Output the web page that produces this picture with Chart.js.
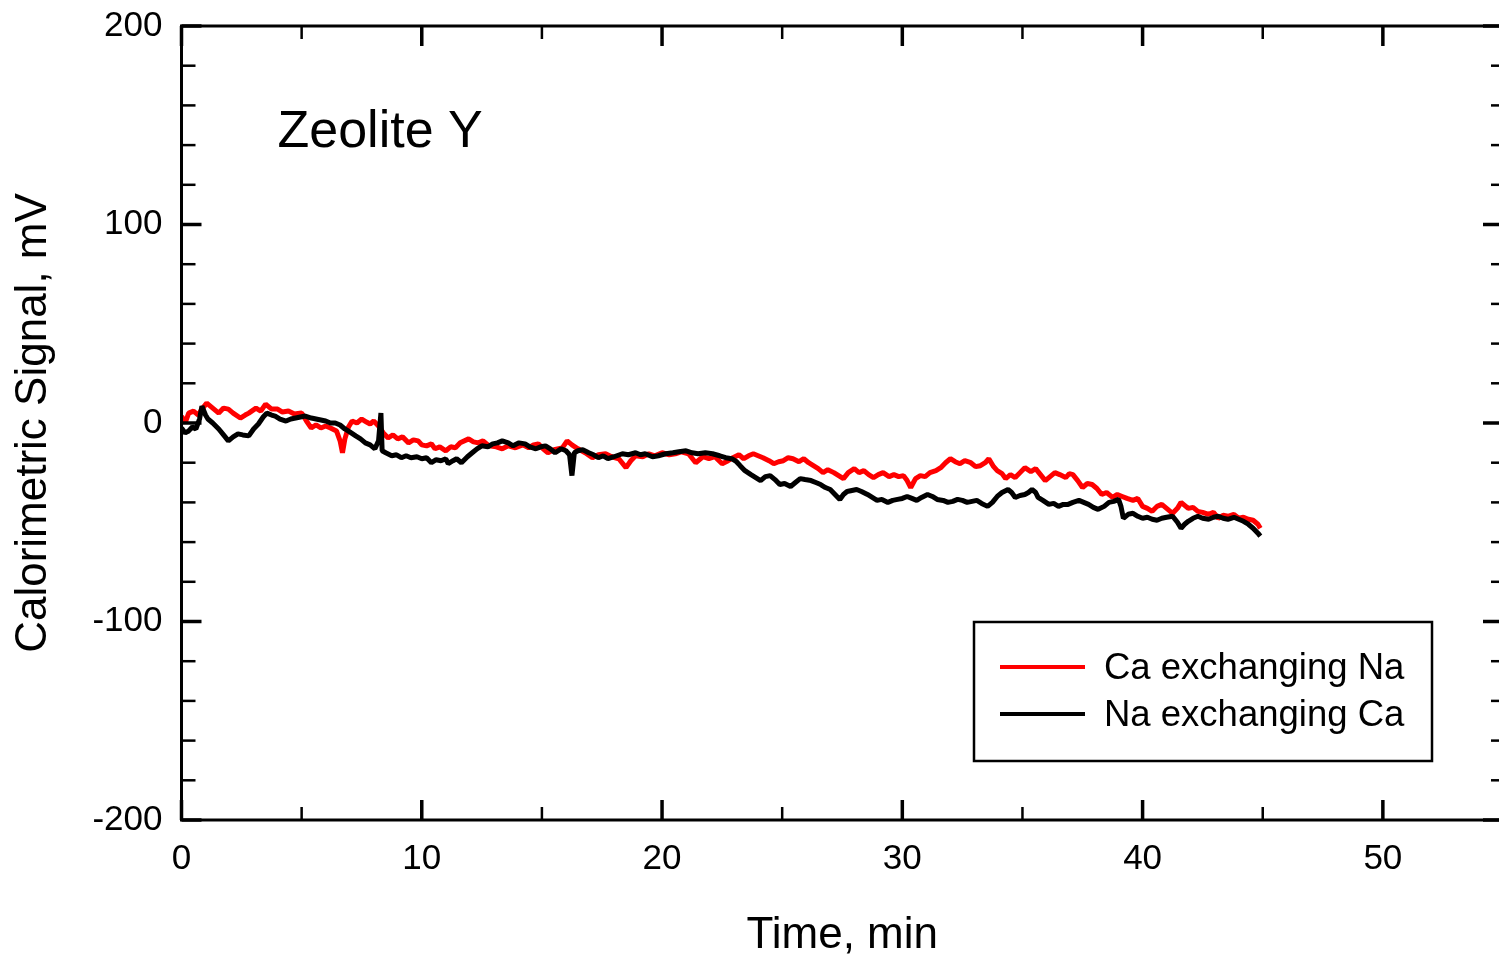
<!DOCTYPE html>
<html>
<head>
<meta charset="utf-8">
<title>Zeolite Y</title>
<script src="https://cdn.jsdelivr.net/npm/chart.js@4.4.1/dist/chart.umd.min.js"></script>
<style>
  html, body { margin: 0; padding: 0; background: #fff; overflow: hidden; }
</style>
</head>
<body>
<canvas id="grafica" width="1520" height="958"></canvas>
<script>
// DATOS (min, mV)
const caTime = [
  0, 0.15, 0.3, 0.5, 0.7, 0.85, 1.05, 1.25, 1.55, 1.75,
  1.95, 2.15, 2.45, 2.65, 2.8, 3.1, 3.3, 3.5, 3.75, 4.0,
  4.2, 4.45, 4.7, 5.0, 5.2, 5.4, 5.6, 5.8, 6.0, 6.2,
  6.45, 6.6, 6.7, 6.8, 6.95, 7.1, 7.3, 7.5, 7.7, 7.85,
  8.0, 8.2, 8.4, 8.6, 8.8, 9.0, 9.2, 9.45, 9.65, 9.85,
  10.0, 10.2, 10.4, 10.55, 10.75, 11.0, 11.2, 11.4, 11.6, 11.95,
  12.15, 12.35, 12.55, 12.8, 13.1, 13.35, 13.6, 13.9, 14.2, 14.45,
  14.65, 14.85, 15.05, 15.25, 15.5, 15.85, 16.05, 16.25, 16.5, 16.8,
  17.1, 17.35, 17.65, 17.9, 18.2, 18.5, 18.7, 18.9, 19.2, 19.45,
  19.7, 20.0, 20.3, 20.55, 20.8, 21.1, 21.4, 21.7, 21.95, 22.2,
  22.5, 22.75, 22.95, 23.2, 23.4, 23.6, 23.8, 24.0, 24.2, 24.45,
  24.65, 24.85, 25.05, 25.25, 25.45, 25.7, 25.9, 26.1, 26.3, 26.5,
  26.7, 26.9, 27.15, 27.35, 27.55, 27.75, 28.0, 28.2, 28.4, 28.6,
  28.8, 29.0, 29.2, 29.45, 29.65, 29.85, 30.05, 30.2, 30.35, 30.55,
  30.75, 30.95, 31.15, 31.4, 31.6, 31.8, 32.0, 32.2, 32.4, 32.6,
  32.85, 33.05, 33.25, 33.45, 33.6, 33.8, 33.95, 34.15, 34.3, 34.5,
  34.7, 34.9, 35.1, 35.35, 35.55, 35.75, 35.95, 36.15, 36.35, 36.55,
  36.8, 36.95, 37.1, 37.3, 37.5, 37.7, 37.9, 38.1, 38.3, 38.5,
  38.75, 38.95, 39.15, 39.35, 39.6, 39.8, 40.0, 40.2, 40.4, 40.6,
  40.8, 41.0, 41.25, 41.45, 41.6, 41.75, 41.9, 42.1, 42.3, 42.5,
  42.75, 42.95, 43.15, 43.35, 43.55, 43.8, 44.0, 44.2, 44.4, 44.6,
  44.8, 44.9
];
const caSignal = [
  3.5, 0, 5, 6, 4, 7, 10, 8, 5, 7.5,
  7, 5, 2.5, 4, 5, 7.5, 6, 9.5, 7, 7,
  5.5, 6, 4.5, 5, 1, -2.5, -1, -2.5, -1.5, -2.5,
  -4, -9, -15, -8, -2, 1, 0, 2, 0.5, -0.5,
  1, -1.5, -5, -7.5, -6, -8, -7, -10, -8.5, -9,
  -11, -11.5, -10.5, -13, -12, -14, -12, -12.5, -10, -8,
  -9.5, -10, -9, -11.5, -12, -13, -11.5, -12.5, -11, -12.5,
  -11, -10.5, -13, -15, -13.5, -12.5, -9, -11, -13, -15,
  -17.5, -16, -15.5, -17, -18, -22.5, -19, -16.5, -17, -15.5,
  -16.5, -15, -16, -15.5, -14.5, -15.5, -20, -17, -18, -17,
  -20.5, -19, -17.5, -16, -18, -16.5, -15.5, -16.5, -17.5, -19,
  -20.5, -19.5, -19, -17.5, -18, -19.5, -18, -20, -21.5, -23,
  -25, -23.5, -25, -26.5, -28, -25, -23, -25, -24, -26,
  -27.5, -26, -25, -27, -26, -27, -26.5, -29, -32.5, -28,
  -26.5, -27, -25, -24, -22.5, -20, -18, -19.5, -20.5, -19,
  -20, -22, -21.5, -20, -18, -22, -24, -25.5, -28, -26,
  -27.5, -25, -22.5, -24.5, -23, -26, -29, -27, -25, -26,
  -27.5, -25.5, -26, -29, -32.5, -30.5, -31, -33, -36, -35,
  -37.5, -36, -37, -38, -39, -38, -42, -43, -44.5, -42,
  -41, -43, -45.5, -43, -40, -41.5, -43, -42.5, -44.5, -45,
  -46, -45, -48, -46.5, -47, -46, -48, -47.5, -48.5, -49,
  -51, -53
];
const naTime = [
  0, 0.15, 0.3, 0.45, 0.6, 0.75, 0.85, 1.0, 1.1, 1.3,
  1.55, 1.75, 1.95, 2.15, 2.35, 2.55, 2.8, 3.0, 3.2, 3.4,
  3.55, 3.75, 3.9, 4.1, 4.35, 4.55, 4.75, 4.95, 5.15, 5.4,
  5.6, 5.8, 6.0, 6.2, 6.4, 6.6, 6.8, 7.0, 7.25, 7.45,
  7.65, 7.85, 8.05, 8.2, 8.3, 8.35, 8.5, 8.75, 8.95, 9.15,
  9.35, 9.55, 9.8, 10.0, 10.2, 10.4, 10.6, 10.8, 11.0, 11.1,
  11.3, 11.45, 11.65, 11.9, 12.1, 12.3, 12.5, 12.75, 12.95, 13.15,
  13.35, 13.6, 13.8, 14.05, 14.3, 14.5, 14.75, 14.95, 15.15, 15.35,
  15.55, 15.8, 16.0, 16.15, 16.25, 16.35, 16.5, 16.7, 16.95, 17.15,
  17.35, 17.55, 17.75, 18.0, 18.35, 18.6, 18.9, 19.1, 19.3, 19.6,
  19.85, 20.15, 20.45, 20.7, 21.0, 21.25, 21.5, 21.8, 22.1, 22.4,
  22.65, 22.9, 23.1, 23.25, 23.45, 23.7, 23.9, 24.1, 24.3, 24.5,
  24.7, 24.9, 25.1, 25.35, 25.55, 25.75, 25.95, 26.2, 26.4, 26.6,
  26.8, 27.0, 27.2, 27.4, 27.55, 27.7, 27.9, 28.1, 28.3, 28.55,
  28.75, 28.95, 29.15, 29.4, 29.6, 29.8, 30.0, 30.2, 30.4, 30.6,
  30.8, 31.05, 31.25, 31.45, 31.7, 31.9, 32.1, 32.3, 32.5, 32.7,
  32.9, 33.1, 33.3, 33.55, 33.75, 33.95, 34.15, 34.4, 34.55, 34.7,
  34.9, 35.1, 35.25, 35.4, 35.55, 35.65, 35.85, 36.1, 36.3, 36.5,
  36.7, 36.9, 37.1, 37.35, 37.55, 37.75, 37.95, 38.15, 38.4, 38.6,
  38.8, 39.0, 39.1, 39.2, 39.4, 39.6, 39.8, 40.0, 40.2, 40.4,
  40.6, 40.8, 41.0, 41.25, 41.45, 41.6, 41.75, 41.9, 42.1, 42.3,
  42.5, 42.75, 42.95, 43.15, 43.35, 43.55, 43.8, 44.0, 44.2, 44.4,
  44.6, 44.8, 44.9
];
const naSignal = [
  -2.5, -5, -4, -2, -3, 2, 8.5, 4, 2, 0,
  -3, -6, -9, -7, -5.5, -6, -6.5, -3, -0.5, 3,
  5, 4, 3.5, 2, 1, 2, 2.5, 3, 3.5, 2.5,
  2, 1.5, 1, 0, 0, -1, -3, -4.5, -6.5, -8,
  -10, -11, -13, -9, 5, -14, -15, -16.5, -16, -17.5,
  -16.5, -17.5, -17, -18, -17.5, -20, -18.5, -19, -18, -20.5,
  -19, -18, -20, -17, -15, -13, -11.5, -12, -10.5, -10,
  -9, -10, -11.5, -10, -10.5, -12, -13, -12, -11.5, -13,
  -15, -13, -14, -16, -26.5, -15, -14, -13.5, -15, -16,
  -17.5, -16.5, -18, -17, -15.5, -16, -15, -16, -15.5, -17,
  -16.5, -15.5, -15, -14.5, -14, -15, -15.5, -15, -15.5, -16.5,
  -17.5, -18, -19.5, -21.5, -24, -26, -27.5, -29, -27, -26.5,
  -28.5, -31, -30.5, -32, -30, -28, -28.5, -29, -30, -31,
  -32.5, -33.5, -36, -38.5, -36, -34.5, -34, -33.5, -34.5, -36,
  -37.5, -39, -38.5, -40, -39, -38.5, -38, -37, -38, -39,
  -37.5, -36, -37, -38.5, -39, -40, -39.5, -38.5, -39, -40,
  -39.5, -39, -40.5, -42, -40, -37, -35, -33.5, -35, -37.5,
  -36.5, -36, -35, -33.5, -35, -37.5, -39, -41, -40.5, -42,
  -41, -41, -40, -39, -40, -41, -42.5, -43.5, -42, -40,
  -39.5, -38.5, -42, -48, -46, -45.5, -47, -48, -47.5, -48.5,
  -49, -48, -47.5, -47, -50, -53, -51, -49.5, -48, -47,
  -48, -48.5, -47.5, -47, -48, -48.5, -47.5, -48.5, -49.5, -51,
  -53, -55.5, -57
];

// MARCAS DE LOS EJES
const xMajorTicks = [0, 10, 20, 30, 40, 50];
const xMinorTicks = [5, 15, 25, 35, 45];
const yMajorTicks = [-200, -100, 0, 100, 200];
const yMinorTicks = [-180, -160, -140, -120, -80, -60, -40, -20, 20, 40, 60, 80, 120, 140, 160, 180];

const fuente = "'Liberation Sans', Arial, sans-serif";
const grafica = document.getElementById('grafica');

const toPoints = (tiempos, valores) => tiempos.map((t, i) => ({ x: t, y: valores[i] }));

// PLUGIN: MARCO, TICKS HACIA DENTRO, ETIQUETA Y LEYENDA
const marcoYLeyenda = {
  id: 'marcoYLeyenda',
  afterDraw: (chart) => {
    const { ctx, chartArea: { left, right, top, bottom }, scales: { x, y } } = chart;
    const linea = (x1, y1, x2, y2, ancho) => {
      ctx.lineWidth = ancho;
      ctx.beginPath();
      ctx.moveTo(x1, y1);
      ctx.lineTo(x2, y2);
      ctx.stroke();
    };
    ctx.save();
    ctx.strokeStyle = '#000';
    ctx.lineCap = 'butt';

    xMajorTicks.forEach((v) => {
      const px = x.getPixelForValue(v);
      linea(px, bottom, px, bottom - 20, 3.5);
      linea(px, top, px, top + 20, 3.5);
    });
    xMinorTicks.forEach((v) => {
      const px = x.getPixelForValue(v);
      linea(px, bottom, px, bottom - 13, 2.5);
      linea(px, top, px, top + 13, 2.5);
    });
    yMajorTicks.forEach((v) => {
      const py = y.getPixelForValue(v);
      linea(left, py, left + 20, py, 3.5);
      linea(right, py, right - 20, py, 3.5);
    });
    yMinorTicks.forEach((v) => {
      const py = y.getPixelForValue(v);
      linea(left, py, left + 14, py, 2.5);
      linea(right, py, right - 12, py, 2.5);
    });

    ctx.lineWidth = 3;
    ctx.strokeRect(left, top, right - left, bottom - top);

    // ETIQUETA DEL MATERIAL
    ctx.fillStyle = '#000';
    ctx.font = `52px ${fuente}`;
    ctx.textAlign = 'left';
    ctx.textBaseline = 'alphabetic';
    ctx.fillText('Zeolite Y', left + 96, top + 121);

    // LEYENDA
    const caja = { x: 974, y: 622, w: 458, h: 139 };
    ctx.fillStyle = '#fff';
    ctx.fillRect(caja.x, caja.y, caja.w, caja.h);
    ctx.lineWidth = 2.5;
    ctx.strokeRect(caja.x, caja.y, caja.w, caja.h);
    ctx.font = `36.5px ${fuente}`;
    ctx.textBaseline = 'middle';
    chart.data.datasets.forEach((ds, i) => {
      const fila = caja.y + 45 + i * 47;
      ctx.strokeStyle = ds.borderColor;
      linea(caja.x + 26, fila, caja.x + 111, fila, 4);
      ctx.fillStyle = '#000';
      ctx.fillText(ds.label, caja.x + 130, fila + 2);
    });
    ctx.restore();
  }
};

const config = {
  type: 'line',
  data: {
    datasets: [
      {
        label: 'Ca exchanging Na',
        data: toPoints(caTime, caSignal),
        borderColor: '#ff0000',
        borderWidth: 5,
        order: 1,
      },
      {
        label: 'Na exchanging Ca',
        data: toPoints(naTime, naSignal),
        borderColor: '#000000',
        borderWidth: 5,
        order: 0,
      }
    ]
  },
  options: {
    responsive: false,
    animation: false,
    layout: { padding: { top: 26, right: 17, left: 0, bottom: 0 } },
    elements: { point: { radius: 0 }, line: { tension: 0, borderJoinStyle: 'bevel' } },
    plugins: { legend: { display: false }, tooltip: { enabled: false } },
    scales: {
      x: {
        type: 'linear',
        min: 0,
        max: 55,
        afterBuildTicks: (scale) => { scale.ticks = xMajorTicks.map((v) => ({ value: v })); },
        afterFit: (scale) => { scale.height = 138; },
        grid: { display: false, drawTicks: false },
        border: { display: false },
        ticks: { color: '#000', font: { family: fuente, size: 35 }, padding: 18, maxRotation: 0 },
        title: { display: true, text: 'Time, min', color: '#000', font: { family: fuente, size: 44, lineHeight: 1 }, padding: { top: 0, bottom: 0 } }
      },
      y: {
        type: 'linear',
        min: -200,
        max: 200,
        afterBuildTicks: (scale) => { scale.ticks = yMajorTicks.map((v) => ({ value: v })); },
        afterFit: (scale) => {
          scale.width = 181.5;
          scale.paddingTop = 0;
          scale.paddingBottom = 0;
        },
        grid: { display: false, drawTicks: false },
        border: { display: false },
        ticks: { color: '#000', font: { family: fuente, size: 35 }, padding: 19 },
        title: { display: true, text: 'Calorimetric Signal, mV', color: '#000', font: { family: fuente, size: 44 }, padding: { top: 7, bottom: 0 } }
      }
    }
  },
  plugins: [marcoYLeyenda]
};

new Chart(grafica, config);
</script>
</body>
</html>
